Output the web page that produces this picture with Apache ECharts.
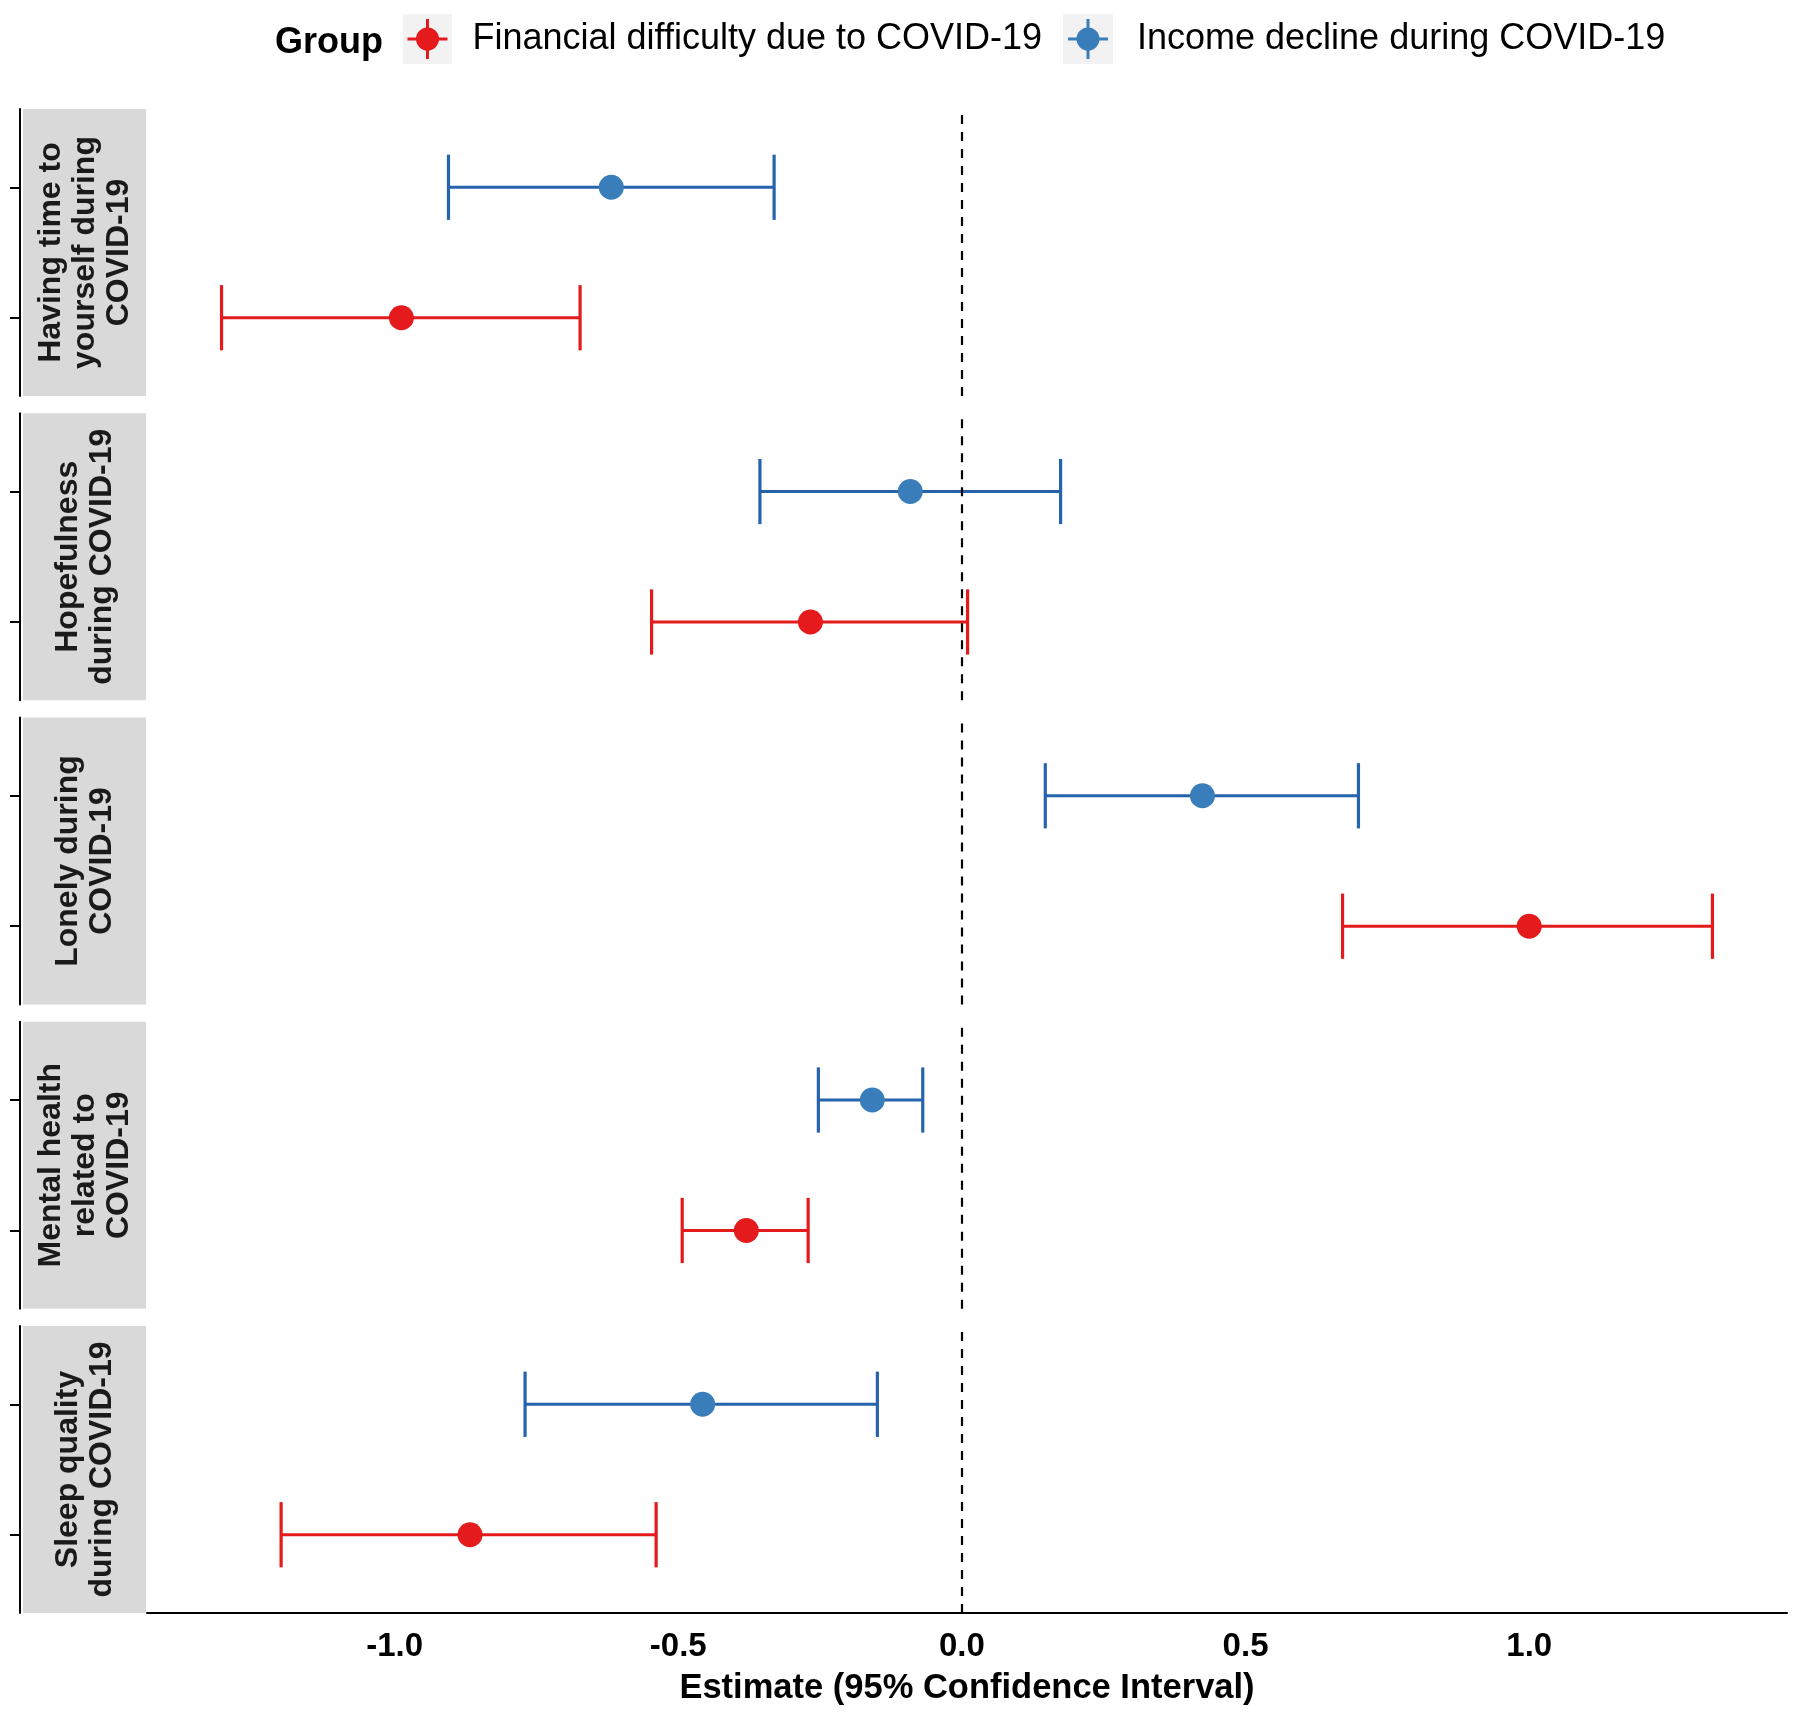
<!DOCTYPE html>
<html>
<head>
<meta charset="utf-8">
<script src="https://cdn.jsdelivr.net/npm/echarts@6/dist/echarts.min.js"></script>
<style>
  html, body { margin: 0; padding: 0; background: #fff; }
  #chart { width: 1800px; height: 1719px; }
</style>
</head>
<body>
<div id="chart"></div>
<script>
// outcomes (facet strips), top to bottom
var outcomes = [
  'Having time to\nyourself during\nCOVID-19',
  'Hopefulness\nduring COVID-19',
  'Lonely during\nCOVID-19',
  'Mental health\nrelated to\nCOVID-19',
  'Sleep quality\nduring COVID-19'
];
var groups = ['Financial difficulty due to COVID-19', 'Income decline during COVID-19'];

// Financial difficulty due to COVID-19
var finEst  = [-0.988, -0.267, 1.000, -0.380, -0.867];
var finLow  = [-1.305, -0.547, 0.671, -0.493, -1.200];
var finHigh = [-0.673,  0.010, 1.323, -0.271, -0.539];

// Income decline during COVID-19
var incEst  = [-0.618, -0.091, 0.424, -0.158, -0.457];
var incLow  = [-0.905, -0.356, 0.147, -0.253, -0.770];
var incHigh = [-0.331,  0.174, 0.699, -0.069, -0.149];

var xTicks = [-1.0, -0.5, 0.0, 0.5, 1.0];

var font = 'Liberation Sans, Arial, sans-serif';
var pointColors = ['#e41a1c', '#3a7dbb'];
var lineColors = ['#e41a1c', '#2563ad'];

var dom = document.getElementById('chart');
var myChart = echarts.init(dom);

// x range like ggplot: data range + 5% each side
var allLow = Math.min.apply(null, finLow.concat(incLow));
var allHigh = Math.max.apply(null, finHigh.concat(incHigh));
var pad = (allHigh - allLow) * 0.05;
var xMin = allLow - pad, xMax = allHigh + pad;

var panelLeft = 147, panelRight = 13, panelTop = 109, panelH = 287, panelStep = 304.25;
var stripLeft = 23, stripW = 123;

function makeRender(gi) {
  return function (params, api) {
    var low = api.value(0), est = api.value(1), high = api.value(2), y = api.value(3);
    var pl = api.coord([low, y]);
    var pe = api.coord([est, y]);
    var ph = api.coord([high, y]);
    var capTop = api.coord([low, y + 0.25])[1];
    var capBot = api.coord([low, y - 0.25])[1];
    var ls = { stroke: lineColors[gi], lineWidth: 3.2 };
    return {
      type: 'group',
      children: [
        { type: 'line', shape: { x1: pl[0], y1: pl[1], x2: ph[0], y2: ph[1] }, style: ls },
        { type: 'line', shape: { x1: pl[0], y1: capTop, x2: pl[0], y2: capBot }, style: ls },
        { type: 'line', shape: { x1: ph[0], y1: capTop, x2: ph[0], y2: capBot }, style: ls },
        { type: 'circle', shape: { cx: pe[0], cy: pe[1], r: 12.5 }, style: { fill: pointColors[gi] } }
      ]
    };
  };
}

var grids = [], xAxes = [], yAxes = [], series = [], graphics = [];

for (var i = 0; i < outcomes.length; i++) {
  var py = panelTop + i * panelStep;
  var last = i === outcomes.length - 1;
  grids.push({ left: panelLeft, right: panelRight, top: py, height: panelH });
  xAxes.push({
    type: 'value', gridIndex: i, min: xMin, max: xMax,
    splitLine: { show: false },
    axisTick: { show: false },
    axisLine: { show: last, onZero: false, lineStyle: { color: '#000', width: 2 } },
    axisLabel: {
      show: last, customValues: xTicks, margin: 17,
      fontFamily: font, fontWeight: 'bold', fontSize: 33, color: '#000',
      formatter: function (v) { return v.toFixed(1); }
    },
    name: last ? 'Estimate (95% Confidence Interval)' : '',
    nameLocation: 'middle', nameGap: 58,
    nameTextStyle: { fontFamily: font, fontWeight: 'bold', fontSize: 34.5, color: '#000' }
  });
  yAxes.push({
    type: 'value', gridIndex: i, min: 0.4, max: 2.6, offset: 127,
    splitLine: { show: false },
    axisLine: { show: true, onZero: false, lineStyle: { color: '#000', width: 2 } },
    axisTick: { show: true, customValues: [1, 2], length: 10, lineStyle: { color: '#000', width: 2 } },
    axisLabel: { show: false }
  });

  series.push({
    name: groups[0], type: 'custom', xAxisIndex: i, yAxisIndex: i,
    itemStyle: { color: pointColors[0] },
    renderItem: makeRender(0),
    encode: { x: [0, 1, 2], y: 3 },
    data: [[finLow[i], finEst[i], finHigh[i], 1]],
    markLine: {
      silent: true, symbol: 'none', animation: false,
      label: { show: false },
      lineStyle: { color: '#000', type: [9, 8], width: 2.2 },
      data: [{ xAxis: 0 }]
    }
  });
  series.push({
    name: groups[1], type: 'custom', xAxisIndex: i, yAxisIndex: i,
    itemStyle: { color: pointColors[1] },
    renderItem: makeRender(1),
    encode: { x: [0, 1, 2], y: 3 },
    data: [[incLow[i], incEst[i], incHigh[i], 2]]
  });

  // facet strip
  graphics.push({
    type: 'rect', left: stripLeft, top: py, z: -1,
    shape: { width: stripW, height: panelH },
    style: { fill: '#d9d9d9' }
  });
  graphics.push({
    type: 'text', x: stripLeft + stripW / 2 + 1, y: py + panelH / 2, rotation: Math.PI / 2,
    style: {
      text: outcomes[i], fill: '#1a1a1a', font: 'bold 32px ' + font,
      textAlign: 'center', textVerticalAlign: 'middle', lineHeight: 34
    }
  });
}

// legend title and key backgrounds
graphics.push({
  type: 'text', x: 275, y: 43,
  style: { text: 'Group', fill: '#000', font: 'bold 36px ' + font, textVerticalAlign: 'middle' }
});
graphics.push({ type: 'rect', left: 403, top: 14, z: -1, shape: { width: 49, height: 50 }, style: { fill: '#f2f2f2' } });
graphics.push({ type: 'rect', left: 1063, top: 14, z: -1, shape: { width: 50, height: 50 }, style: { fill: '#f2f2f2' } });

var keyIcon = 'path://M18.5,0 H21.5 V40 H18.5 Z M0,18.5 H40 V21.5 H0 Z M8.5,20 A11.5,11.5 0 1,1 31.5,20 A11.5,11.5 0 1,1 8.5,20 Z';
function legendFor(name, left, gap) {
  return {
    data: [name], left: left, top: 19, padding: 0,
    icon: keyIcon, itemWidth: 40, itemHeight: 40,
    textStyle: { fontFamily: font, fontSize: 36, color: '#000', padding: [6, 0, 0, gap] }
  };
}

option = {
  backgroundColor: '#fff',
  animation: false,
  legend: [legendFor(groups[0], 407.5, 20), legendFor(groups[1], 1068, 24)],
  grid: grids,
  xAxis: xAxes,
  yAxis: yAxes,
  graphic: graphics,
  series: series
};

if (option && typeof option === 'object') {
  myChart.setOption(option, true);
}
</script>
</body>
</html>
